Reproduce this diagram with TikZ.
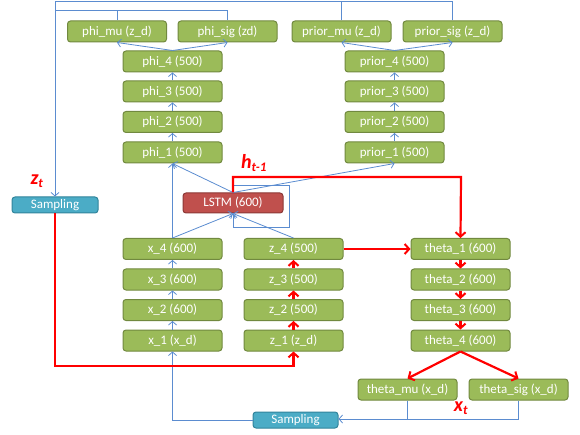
\documentclass[tikz,border=0pt]{standalone}
\usepackage{fontspec}
\setmainfont{Carlito}
\usetikzlibrary{arrows.meta}
\definecolor{gfill}{HTML}{9BBB59}
\definecolor{gdraw}{HTML}{71893F}
\definecolor{rfill}{HTML}{C0504D}
\definecolor{rdraw}{HTML}{8C3836}
\definecolor{cfill}{HTML}{4BACC6}
\definecolor{cdraw}{HTML}{31849B}
\definecolor{bline}{HTML}{5B8CD0}
\tikzset{
  gbox/.style={draw=gdraw, fill=gfill, line width=1pt, rounded corners=3pt, minimum width=99pt, minimum height=21pt, inner sep=0pt, text=white, font=\fontsize{13}{14}\selectfont},
  lbox/.style={gbox, draw=rdraw, fill=rfill, minimum width=100pt, minimum height=20pt},
  sbox/.style={gbox, draw=cdraw, fill=cfill, minimum width=86pt, minimum height=16pt},
  bl/.style={draw=bline, line width=0.8pt},
  barrow/.style={bl, -{Straight Barb[length=3.5pt,width=8pt]}},
  rl/.style={draw=red, line width=2.2pt},
  rarrow/.style={rl, -{Straight Barb[length=4.5pt,width=10pt,line width=2pt]}},
  lab/.style={text=red, font=\fontsize{20}{22}\selectfont\bfseries\itshape, inner sep=0pt}
}
\begin{document}
\begin{tikzpicture}[x=1pt,y=-1pt]
\useasboundingbox (0,0) rectangle (580,435);
% nodes
\node[gbox] (phimu) at (117,31.5) {phi\_mu (z\_d)};
\node[gbox] (phisig) at (227.5,31.5) {phi\_sig (zd)};
\node[gbox] (phi4) at (172.5,61.5) {phi\_4 (500)};
\node[gbox] (phi3) at (172.5,91.5) {phi\_3 (500)};
\node[gbox] (phi2) at (172.5,122) {phi\_2 (500)};
\node[gbox] (phi1) at (172.5,152.5) {phi\_1 (500)};
\node[gbox] (primu) at (341.5,31.5) {prior\_mu (z\_d)};
\node[gbox] (prisig) at (452.5,31.5) {prior\_sig (z\_d)};
\node[gbox] (pri4) at (394.5,61.5) {prior\_4 (500)};
\node[gbox] (pri3) at (394.5,91.5) {prior\_3 (500)};
\node[gbox] (pri2) at (394.5,122) {prior\_2 (500)};
\node[gbox] (pri1) at (394.5,152.5) {prior\_1 (500)};
\node[sbox] (samp1) at (55,205) {Sampling};
\node[lbox] (lstm) at (233,203) {LSTM (600)};
\node[gbox] (x4) at (172.5,249) {x\_4 (600)};
\node[gbox] (x3) at (172.5,279.5) {x\_3 (600)};
\node[gbox] (x2) at (172.5,310) {x\_2 (600)};
\node[gbox] (x1) at (172.5,340.5) {x\_1 (x\_d)};
\node[gbox] (z4) at (293.5,249) {z\_4 (500)};
\node[gbox] (z3) at (293.5,279.5) {z\_3 (500)};
\node[gbox] (z2) at (293.5,310) {z\_2 (500)};
\node[gbox] (z1) at (293.5,340.5) {z\_1 (z\_d)};
\node[gbox] (th1) at (460.5,249) {theta\_1 (600)};
\node[gbox] (th2) at (460.5,279.5) {theta\_2 (600)};
\node[gbox] (th3) at (460.5,310) {theta\_3 (600)};
\node[gbox] (th4) at (460.5,340.5) {theta\_4 (600)};
\node[gbox] (thmu) at (407.5,389.5) {theta\_mu (x\_d)};
\node[gbox] (thsig) at (518.5,389.5) {theta\_sig (x\_d)};
\node[sbox, minimum width=85pt] (samp2) at (295.5,420) {Sampling};
% labels
\node[lab] (zt) at (37,181) {z\textsubscript{\fontsize{13}{14}\selectfont t}};
\node[lab] (ht) at (254,163) {h\textsubscript{\fontsize{13}{14}\selectfont t-1}};
\node[lab] (xt) at (461,408) {x\textsubscript{\fontsize{13}{14}\selectfont t}};
% coordinates
\coordinate (topl) at (55,1.5);
\coordinate (midl) at (55,10);
\coordinate (loopa) at (233,185);
\coordinate (loopb) at (289,227);
\coordinate (rtop) at (461,177);
\coordinate (rbot) at (55,366);
\coordinate (bbot) at (407.5,419);
% blue chains
\draw[barrow] (x1) -- (x2);
\draw[barrow] (x2) -- (x3);
\draw[barrow] (x3) -- (x4);
\draw[barrow] (phi1) -- (phi2);
\draw[barrow] (phi2) -- (phi3);
\draw[barrow] (phi3) -- (phi4);
\draw[barrow] (phi4.north) -- (phimu.south);
\draw[barrow] (phi4.north) -- (phisig.south);
\draw[barrow] (pri1) -- (pri2);
\draw[barrow] (pri2) -- (pri3);
\draw[barrow] (pri3) -- (pri4);
\draw[barrow] (pri4.north) -- (primu.south);
\draw[barrow] (pri4.north) -- (prisig.south);
\draw[barrow] (x4.north) -- (phi1.south);
\draw[barrow] (lstm.north) -- (phi1.south);
\draw[barrow] (lstm.north) -- (pri1.south);
\draw[barrow] (x4.north) -- (lstm.south);
\draw[barrow] (z4.north) -- (lstm.south);
\draw[barrow] (lstm.north) -- (loopa) -| (loopb) -| (lstm.south);
% top feedback lines
\draw[barrow] (prisig.north) |- (topl) -- (samp1.north);
\draw[bl] (primu.north) -- (primu.north |- topl);
\draw[bl] (phisig.north) |- (midl);
\draw[bl] (phimu.north) -- (phimu.north |- midl);
% bottom sampling
\draw[bl] (thmu.south) |- (thsig.south |- bbot) -- (thsig.south);
\draw[barrow] (bbot) -- (samp2.east |- bbot);
\draw[barrow] (samp2.west) -| (x1.south);
% red paths
\draw[rarrow] (z1) -- (z2);
\draw[rarrow] (z2) -- (z3);
\draw[rarrow] (z3) -- (z4);
\draw[rarrow] (z4) -- (th1);
\draw[rarrow] (th1) -- (th2);
\draw[rarrow] (th2) -- (th3);
\draw[rarrow] (th3) -- (th4);
\draw[rarrow] (th4.south) -- (thmu.north);
\draw[rarrow] (th4.south) -- (thsig.north);
\draw[rarrow] (lstm.north) |- (rtop) -- (th1.north);
\draw[rarrow] (samp1.south) -- (rbot) -| (z1.south);
\end{tikzpicture}
\end{document}
